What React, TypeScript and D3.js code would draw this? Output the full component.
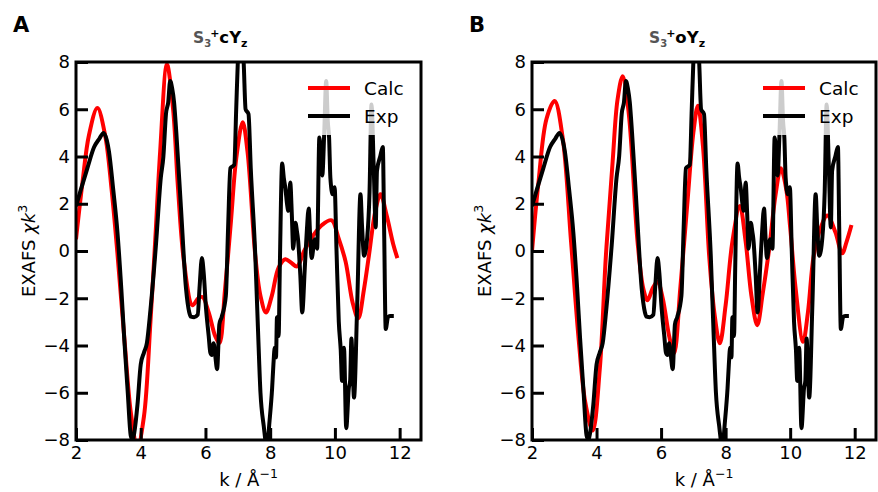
import { useEffect, useRef } from "react";
import * as d3 from "d3";

// experimental chi(k)*k^3, same in both panels
const expData: [number, number][] = [
  [2.0, 1.9], [2.15, 2.6], [2.35, 3.5], [2.56, 4.4], [2.72, 4.75], [2.85, 5.0], [2.95, 4.7],
  [3.02, 4.2], [3.15, 2.6], [3.28, 0.8], [3.4, -1.6], [3.49, -3.7], [3.6, -6.0], [3.69, -7.8],
  [3.75, -8.0], [3.8, -7.7], [3.9, -6.5], [4.0, -4.8], [4.1, -4.3], [4.19, -3.9], [4.3, -2.5],
  [4.47, 0.25], [4.62, 3.1], [4.7, 4.0], [4.78, 5.8], [4.85, 6.3], [4.91, 7.2], [4.97, 6.9],
  [5.03, 6.3], [5.1, 5.0], [5.24, 1.9], [5.4, -1.6], [5.5, -2.6], [5.55, -2.78], [5.65, -2.8],
  [5.76, -2.7], [5.82, -1.5], [5.89, -0.3], [5.95, -1.0], [6.01, -2.3], [6.1, -3.6], [6.15, -4.3],
  [6.2, -4.4], [6.25, -3.9], [6.3, -4.4], [6.36, -5.0], [6.43, -3.1], [6.5, -2.8], [6.63, -1.9],
  [6.7, 1.0], [6.77, 3.5], [6.89, 3.65], [6.95, 6.0], [7.0, 8.0], [7.08, 9.3], [7.18, 8.0],
  [7.24, 6.0], [7.33, 5.8], [7.4, 3.5], [7.54, -0.2], [7.62, -3.2], [7.7, -6.0], [7.8, -7.4],
  [7.9, -8.3], [7.98, -7.2], [8.06, -5.8], [8.1, -4.8], [8.14, -4.1], [8.18, -4.5], [8.21, -2.8],
  [8.26, -3.6], [8.3, -0.5], [8.37, 3.7], [8.42, 3.1], [8.47, 2.65], [8.52, 2.0], [8.56, 1.7],
  [8.62, 2.9], [8.67, 1.5], [8.71, 0.1], [8.78, 1.2], [8.83, 0.8], [8.86, 0.5], [8.93, -1.0],
  [8.99, -2.6], [9.07, -0.7], [9.13, 0.8], [9.19, 1.8], [9.24, 0.5], [9.28, -0.3], [9.38, 0.5],
  [9.45, 0.1], [9.52, 4.8], [9.57, 4.0], [9.61, 3.2], [9.67, 5.0], [9.73, 7.2], [9.78, 5.5],
  [9.82, 4.8], [9.86, 3.1], [9.93, 2.4], [9.99, 2.7], [10.05, 0.0], [10.12, -3.0], [10.18, -4.2],
  [10.22, -5.5], [10.28, -4.1], [10.35, -7.5], [10.43, -5.8], [10.47, -5.5], [10.51, -3.7],
  [10.55, -5.0], [10.59, -6.2], [10.69, -2.2], [10.79, 2.4], [10.84, 1.0], [10.9, -0.2],
  [11.0, 0.6], [11.07, 2.5], [11.13, 6.2], [11.2, 3.5], [11.26, 1.0], [11.3, 3.4], [11.4, 4.0],
  [11.48, 4.4], [11.52, 1.0], [11.57, -3.3], [11.64, -2.8], [11.7, -2.75], [11.82, -2.75],
];

// calculated, panel A (S3+cYz)
const calcA: [number, number][] = [
  [2.0, 0.5], [2.2, 2.9], [2.4, 4.9], [2.66, 6.05], [2.9, 4.9], [3.1, 2.6], [3.28, -0.1],
  [3.5, -3.8], [3.7, -6.9], [3.9, -8.3], [4.1, -7.0], [4.3, -3.0], [4.45, 0.5], [4.6, 4.2],
  [4.81, 7.9], [5.0, 6.0], [5.15, 2.7], [5.34, -0.5], [5.6, -2.3], [5.78, -2.0], [5.91, -1.95],
  [6.1, -2.6], [6.3, -3.6], [6.43, -3.9], [6.6, -1.7], [6.79, 1.3], [6.95, 3.9], [7.15, 5.45],
  [7.3, 4.2], [7.54, -0.2], [7.7, -1.9], [7.87, -2.6], [8.05, -1.9], [8.26, -0.7], [8.47, -0.35],
  [8.65, -0.5], [8.83, -0.65], [9.05, 0.0], [9.3, 0.6], [9.6, 1.1], [9.9, 1.3], [10.1, 0.6],
  [10.33, -0.45], [10.55, -2.2], [10.72, -2.85], [10.9, -1.6], [11.05, -0.2], [11.25, 1.7],
  [11.41, 2.4], [11.6, 1.5], [11.8, 0.3], [11.93, -0.3],
];

// calculated, panel B (S3+oYz)
const calcB: [number, number][] = [
  [2.0, 0.0], [2.2, 2.9], [2.45, 5.6], [2.7, 6.35], [2.95, 4.8], [3.21, 0.4], [3.45, -3.8],
  [3.65, -6.4], [3.88, -7.6], [4.1, -5.0], [4.29, -0.2], [4.5, 3.8], [4.65, 6.4], [4.81, 7.4],
  [5.0, 5.8], [5.27, 0.4], [5.45, -1.6], [5.58, -2.08], [5.75, -1.55], [5.89, -1.3], [6.05, -2.0],
  [6.25, -3.6], [6.4, -4.34], [6.6, -1.5], [6.81, 1.95], [7.0, 5.0], [7.14, 6.15], [7.3, 4.4],
  [7.49, -0.2], [7.65, -2.6], [7.82, -3.9], [8.0, -2.3], [8.21, 0.4], [8.44, 1.9], [8.62, 0.4],
  [8.8, -1.9], [8.98, -3.14], [9.15, -1.8], [9.35, 0.1], [9.55, 2.4], [9.71, 3.5], [9.88, 2.6],
  [10.0, 1.0], [10.17, -1.6], [10.4, -3.84], [10.55, -2.6], [10.73, -0.2], [10.95, 1.0],
  [11.15, 1.5], [11.4, 0.8], [11.61, -0.1], [11.75, 0.4], [11.9, 1.1],
];

const xTicks = [2, 4, 6, 8, 10, 12];
const yTicks = [-8, -6, -4, -2, 0, 2, 4, 6, 8];
const legendLabels = ["Calc", "Exp"];
const panelLetters = ["A", "B"];
const stateLabels = ["cY", "oY"];

const W = 878;
const H = 492;

export default function App() {
  const ref = useRef<SVGSVGElement>(null);

  useEffect(() => {
    const svg = d3.select(ref.current);
    svg.selectAll("*").remove();

    const panels = [
      { left: 76, right: 421, calc: calcA },
      { left: 532, right: 876, calc: calcB },
    ];
    const top = 62;
    const bottom = 440;
    const font = "DejaVu Sans, sans-serif";

    panels.forEach((p, i) => {
      const x = d3.scaleLinear().domain([2, 12.66]).range([p.left, p.right]);
      const y = d3.scaleLinear().domain([-8, 8]).range([bottom, top]);
      const g = svg.append("g");

      const clipId = "clip" + i;
      g.append("clipPath").attr("id", clipId)
        .append("rect")
        .attr("x", p.left).attr("y", top)
        .attr("width", p.right - p.left).attr("height", bottom - top);

      const calcLine = d3.line<[number, number]>()
        .x(d => x(d[0])).y(d => y(d[1]))
        .curve(d3.curveCatmullRom.alpha(0.5));
      const expLine = d3.line<[number, number]>()
        .x(d => x(d[0])).y(d => y(d[1]))
        .curve(d3.curveMonotoneX);

      const plot = g.append("g").attr("clip-path", `url(#${clipId})`);
      plot.append("path").datum(p.calc)
        .attr("d", calcLine).attr("fill", "none")
        .attr("stroke", "#ff0000").attr("stroke-width", 4)
        .attr("stroke-linejoin", "round");
      plot.append("path").datum(expData)
        .attr("d", expLine).attr("fill", "none")
        .attr("stroke", "#000").attr("stroke-width", 4)
        .attr("stroke-linejoin", "round");

      // legend (white box, alpha 0.8)
      const lg = g.append("g");
      lg.append("rect")
        .attr("x", p.right - 121).attr("y", 72)
        .attr("width", 116).attr("height", 63)
        .attr("fill", "#fff").attr("fill-opacity", 0.8);
      legendLabels.forEach((lab, j) => {
        const ly = 88 + j * 28;
        lg.append("line")
          .attr("x1", p.right - 113).attr("x2", p.right - 71)
          .attr("y1", ly).attr("y2", ly)
          .attr("stroke", j === 0 ? "#ff0000" : "#000").attr("stroke-width", 4);
        lg.append("text")
          .attr("x", p.right - 57).attr("y", ly + 7)
          .attr("font-family", font).attr("font-size", 18.5)
          .text(lab);
      });

      // axes, inward ticks
      const yAxis = g.append("g")
        .attr("transform", `translate(${p.left},0)`)
        .call(d3.axisLeft(y).tickValues(yTicks).tickSizeInner(-12).tickSizeOuter(0).tickPadding(6));
      const xAxis = g.append("g")
        .attr("transform", `translate(0,${bottom})`)
        .call(d3.axisBottom(x).tickValues(xTicks).tickSizeInner(-12).tickSizeOuter(0).tickPadding(6));
      [yAxis, xAxis].forEach(a => {
        a.attr("font-family", font).attr("font-size", 18);
        a.select(".domain").remove();
        a.selectAll(".tick line").attr("stroke-width", 3);
        a.selectAll(".tick text").attr("fill", "#000");
      });

      g.append("rect")
        .attr("x", p.left).attr("y", top)
        .attr("width", p.right - p.left).attr("height", bottom - top)
        .attr("fill", "none").attr("stroke", "#000").attr("stroke-width", 3);

      // x label
      const cx = (p.left + p.right) / 2;
      const xl = g.append("text")
        .attr("x", cx).attr("y", 486)
        .attr("text-anchor", "middle")
        .attr("font-family", font).attr("font-size", 18);
      xl.append("tspan").text("k / Å");
      xl.append("tspan").attr("font-size", 12.5).attr("dy", -8).text("−1");

      // y label
      const yl = g.append("text")
        .attr("transform", `translate(${p.left - 41},${(top + bottom) / 2}) rotate(-90)`)
        .attr("text-anchor", "middle")
        .attr("font-family", font).attr("font-size", 18);
      yl.append("tspan").text("EXAFS ");
      yl.append("tspan").attr("font-style", "italic").text("χk");
      yl.append("tspan").attr("font-size", 12.5).attr("dy", -8).text("3");

      // panel letter
      g.append("text")
        .attr("x", p.left - 63).attr("y", 32)
        .attr("font-family", font).attr("font-size", 21).attr("font-weight", "bold")
        .text(panelLetters[i]);

      // title S3+ cYz / oYz
      const t = g.append("text")
        .attr("x", p.left + 117).attr("y", 43)
        .attr("font-family", font).attr("font-size", 16.5).attr("font-weight", "bold");
      t.append("tspan").attr("fill", "#555").attr("font-size", 15.5).text("S");
      t.append("tspan").attr("fill", "#555").attr("font-size", 10).attr("dy", 4).text("3");
      t.append("tspan").attr("font-size", 11).attr("dx", -1).attr("dy", -10).text("+");
      t.append("tspan").attr("dy", 6).text(stateLabels[i]);
      t.append("tspan").attr("font-size", 11).attr("dy", 4).text("z");
    });
  }, []);

  return (
    <svg
      ref={ref}
      width={W}
      height={H}
      style={{ position: "absolute", left: 0, top: 0, background: "#fff" }}
    />
  );
}
